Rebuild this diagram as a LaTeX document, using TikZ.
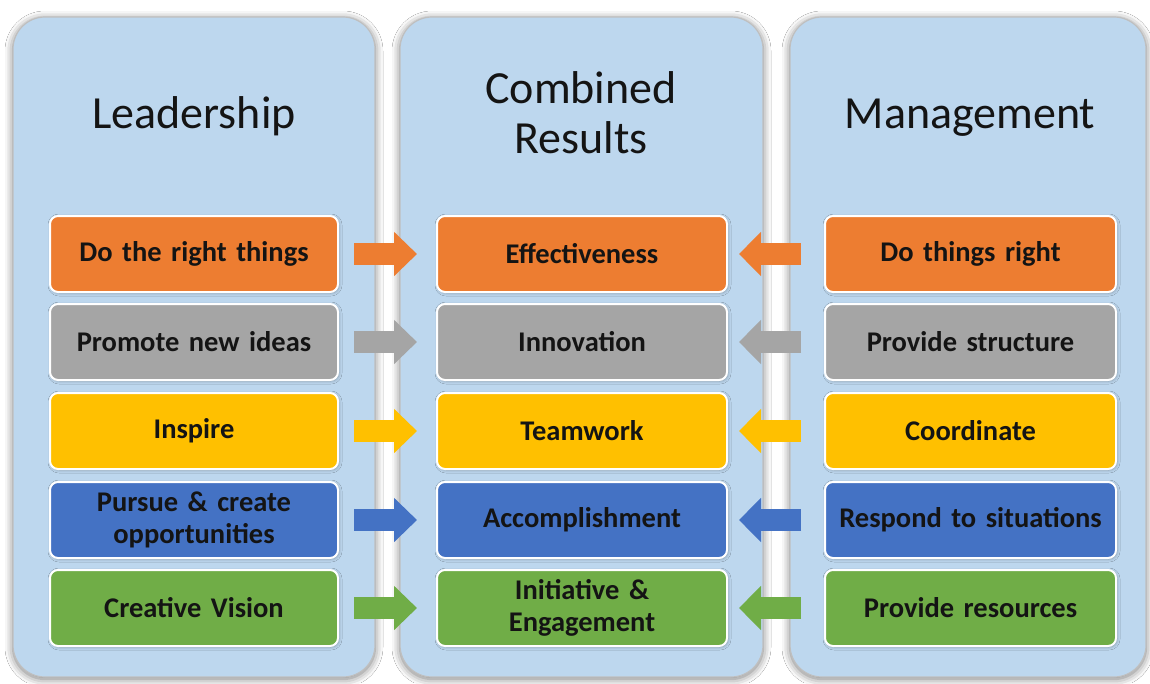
\documentclass[tikz,border=0pt]{standalone}
\usepackage{fontspec}
\setmainfont{Carlito}
\usetikzlibrary{arrows.meta,shadows.blur}
\definecolor{panelblue}{HTML}{BDD7EE}
\definecolor{cOrange}{HTML}{ED7D31}
\definecolor{cGray}{HTML}{A5A5A5}
\definecolor{cYellow}{HTML}{FFC000}
\definecolor{cBlue}{HTML}{4472C4}
\definecolor{cGreen}{HTML}{70AD47}
\definecolor{txt}{HTML}{141414}
\tikzset{
  panel/.style={fill=panelblue, draw=gray!50, line width=1.2pt, rounded corners=32,
    blur shadow={shadow xshift=0pt, shadow yshift=-2pt, shadow blur radius=8pt, shadow opacity=55}},
  title/.style={font=\fontsize{46}{50}\selectfont, text=txt, align=center},
  item/.style={rounded corners=8, draw=white, line width=2, minimum height=76,
    text width=272, align=center, inner sep=0, text=txt,
    font=\bfseries\fontsize{28.5}{32}\selectfont,
    blur shadow={shadow xshift=1pt, shadow yshift=-1pt, shadow blur radius=3pt, shadow opacity=30}},
  lw/.style={item, minimum width=288},
  mw/.style={item, minimum width=290},
  rw/.style={item, minimum width=291},
  larrow/.style={line width=22, -{Triangle[length=23pt,width=43pt]}, shorten <=15, shorten >=19},
  rarrow/.style={line width=22, -{Triangle[length=22pt,width=43pt]}, shorten <=23, shorten >=11},
}
\begin{document}
\begin{tikzpicture}[x=1pt,y=-1pt]
\useasboundingbox[fill=white] (0,0) rectangle (1150,683);
% panels
\path[panel] (13,17) rectangle (375,677);
\path[panel] (400,17) rectangle (763,677);
\path[panel] (790,17) rectangle (1146,677);
% titles
\node[title, anchor=base] (tL) at (194,128) {Leadership};
\node[title] (tM) at (581,113) {Combined\\Results};
\node[title, anchor=base] (tR) at (970,128) {Management};
% left column
\node[lw, fill=cOrange] (L1) at (194,254) {Do the right things};
\node[lw, fill=cGray]   (L2) at (194,342) {Promote new ideas};
\node[lw, fill=cYellow] (L3) at (194,431) {Inspire};
\node[lw, fill=cBlue]   (L4) at (194,520) {Pursue \& create\\opportunities};
\node[lw, fill=cGreen]  (L5) at (194,608) {Creative Vision};
% middle column
\node[mw, fill=cOrange] (M1) at (582,254) {Effectiveness};
\node[mw, fill=cGray]   (M2) at (582,342) {Innovation};
\node[mw, fill=cYellow] (M3) at (582,431) {Teamwork};
\node[mw, fill=cBlue]   (M4) at (582,520) {Accomplishment};
\node[mw, fill=cGreen]  (M5) at (582,608) {Initiative \&\\Engagement};
% right column
\node[rw, fill=cOrange] (R1) at (970.5,254) {Do things right};
\node[rw, fill=cGray]   (R2) at (970.5,342) {Provide structure};
\node[rw, fill=cYellow] (R3) at (970.5,431) {Coordinate};
\node[rw, fill=cBlue]   (R4) at (970.5,520) {Respond to situations};
\node[rw, fill=cGreen]  (R5) at (970.5,608) {Provide resources};
% arrows
\draw[larrow, cOrange] (L1) -- (M1);
\draw[larrow, cGray]   (L2) -- (M2);
\draw[larrow, cYellow] (L3) -- (M3);
\draw[larrow, cBlue]   (L4) -- (M4);
\draw[larrow, cGreen]  (L5) -- (M5);
\draw[rarrow, cOrange] (R1) -- (M1);
\draw[rarrow, cGray]   (R2) -- (M2);
\draw[rarrow, cYellow] (R3) -- (M3);
\draw[rarrow, cBlue]   (R4) -- (M4);
\draw[rarrow, cGreen]  (R5) -- (M5);
\end{tikzpicture}
\end{document}
